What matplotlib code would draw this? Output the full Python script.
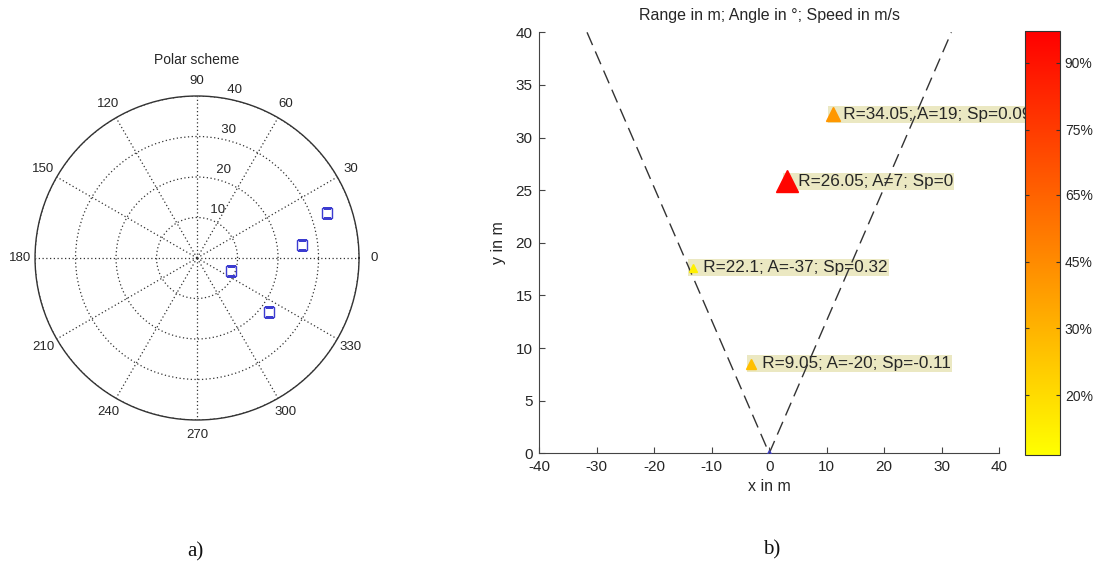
import numpy as np
import matplotlib
matplotlib.use('Agg')
import matplotlib.pyplot as plt
from matplotlib.colors import Normalize
from matplotlib.cm import ScalarMappable

plt.rcParams['font.family'] = ['Liberation Sans', 'DejaVu Sans']
plt.rcParams['axes.unicode_minus'] = False

# Detected targets
ranges = np.array([34.05, 26.05, 22.1, 9.05])      # m
angles = np.array([19, 7, -37, -20])               # deg
speeds = np.array([0.09, 0, 0.32, -0.11])          # m/s
confidence = np.array([0.41, 0.98, 0.06, 0.25])    # position on colour scale

# Field of view edges (x, y) and sensor position
fov_x = [-31.7, 0, 31.7]
fov_y = [40, 0, 40]
sensor_x = [0]
sensor_y = [0]

# Colour bar ticks
cbar_ticks = [0.141, 0.299, 0.456, 0.613, 0.767, 0.925]
cbar_labels = ['20%', '30%', '45%', '65%', '75%', '90%']

# Polar grid
r_ticks = [10, 20, 30, 40]
theta_ticks = np.arange(0, 360, 30)

txt_col = '#262626'
grid_col = '#333333'

fig = plt.figure(figsize=(10.98, 5.63), dpi=100)

# a) polar scheme
axp = fig.add_axes([0.0319, 0.254, 0.2951, 0.5755], projection='polar')
axp.plot(np.deg2rad(angles), ranges, 's', mec='#3c3cd0', mfc='none', ms=7, mew=1,
         zorder=3)
axp.set_ylim(0, 40)
axp.set_yticks(r_ticks)
axp.set_yticklabels([])
axp.set_thetagrids(theta_ticks, [str(t) for t in theta_ticks])
axp.grid(True, color=grid_col, linestyle=(0, (1, 2)), lw=0.9)
axp.spines['polar'].set_color(grid_col)
axp.spines['polar'].set_linewidth(1.0)
axp.tick_params(axis='x', length=0, pad=4, labelsize=9.5, labelcolor=txt_col)
axp.tick_params(axis='y', length=0)
for r in r_ticks:
    axp.text(np.deg2rad(82), r + 0.5, '  %d' % r, ha='left', va='bottom',
             fontsize=9.5, color=txt_col)
axp.set_title('Polar scheme', fontsize=10, color=txt_col, y=1.10, pad=0)

# b) cartesian view
ax = fig.add_axes([0.4912, 0.1948, 0.4187, 0.7478])
cmap = plt.get_cmap('autumn_r')
norm = Normalize(0, 1)

xs = ranges * np.sin(np.deg2rad(angles))
ys = ranges * np.cos(np.deg2rad(angles))

ax.plot(fov_x, fov_y, color='#333333', ls=(0, (10, 5)), lw=1, zorder=2)
ax.plot(sensor_x, sensor_y, '^', mec='#4040c0', mfc='none', ms=4, zorder=3)

for x, y, r, a, s, c in zip(xs, ys, ranges, angles, speeds, confidence):
    ax.plot(x, y, '^', color=cmap(norm(c)), ms=4.5 + 12 * c, zorder=3)
    label = '   R=%g; A=%g; Sp=%g' % (r, a, s)
    ax.annotate(label, (x, y), xytext=(-3.5, 0), textcoords='offset pixels',
                ha='left', va='center', fontsize=12.3, color=txt_col,
                bbox=dict(boxstyle='square,pad=0.06', fc='#ebe8c2', ec='none'),
                annotation_clip=False, zorder=1)

ax.set_xlim(-40, 40)
ax.set_ylim(0, 40)
ax.set_xticks(np.arange(-40, 41, 10))
ax.set_yticks(np.arange(0, 41, 5))
for side in ['top', 'right']:
    ax.spines[side].set_visible(False)
for side in ['left', 'bottom']:
    ax.spines[side].set_color('#444444')
ax.tick_params(direction='in', length=4, pad=5, labelsize=11, colors='#444444',
               labelcolor=txt_col)
ax.set_xlabel('x in m', fontsize=11.5, color=txt_col, labelpad=3.5)
ax.set_ylabel('y in m', fontsize=11.5, color=txt_col, labelpad=7)
ax.set_title('Range in m; Angle in °; Speed in m/s', fontsize=11.5,
             color=txt_col, pad=9)

# colour bar
cax = fig.add_axes([0.9335, 0.1918, 0.0319, 0.7536])
cb = fig.colorbar(ScalarMappable(norm=norm, cmap=cmap), cax=cax)
cb.set_ticks(cbar_ticks, labels=cbar_labels)
cb.outline.set_edgecolor('#333333')
cax.tick_params(direction='in', length=3, left=True, right=True,
                colors='#333333', labelsize=10, labelcolor=txt_col)

fig.text(195 / 1098, 1 - 551.7 / 563, 'a)', family='Liberation Serif',
         fontsize=15, ha='center', va='center', color='#111111')
fig.text(771.7 / 1098, 1 - 550 / 563, 'b)', family='Liberation Serif',
         fontsize=15, ha='center', va='center', color='#111111')

fig.savefig('out.png', dpi=100)
